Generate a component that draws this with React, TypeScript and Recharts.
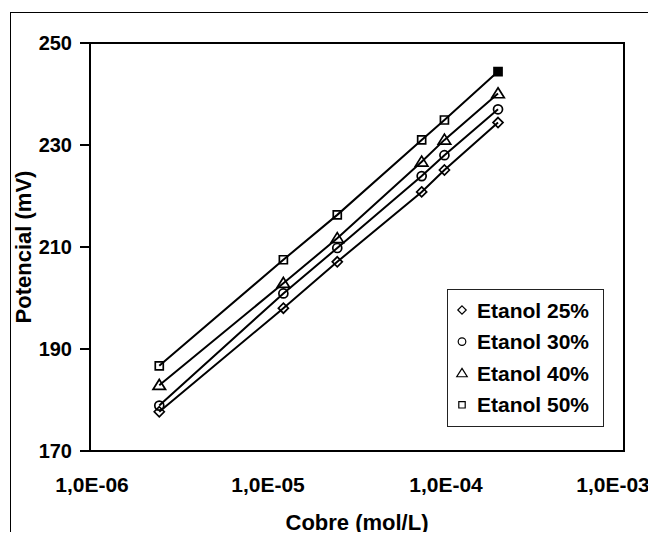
import React from 'react';
import { ScatterChart, Scatter, XAxis, YAxis, ReferenceArea, Legend } from 'recharts';

const concentrations = [2.45e-6, 1.22e-5, 2.45e-5, 7.3e-5, 9.8e-5, 1.96e-4];
const etanol25 = [177.7, 198.0, 207.1, 220.8, 225.1, 234.4];
const etanol30 = [178.9, 200.9, 209.8, 223.9, 228.0, 237.0];
const etanol40 = [182.9, 202.9, 211.7, 226.7, 231.0, 240.1];
const etanol50 = [186.7, 207.5, 216.3, 231.0, 234.9, 244.4];
const seriesNames = ['Etanol 25%', 'Etanol 30%', 'Etanol 40%', 'Etanol 50%'];
const markerKinds = ['diamond', 'circle', 'triangle', 'square'];
const xTicks = [1e-6, 1e-5, 1e-4, 1e-3];
const xTickLabels = ['1,0E-06', '1,0E-05', '1,0E-04', '1,0E-03'];
const yTicks = [170, 190, 210, 230, 250];
const xTitle = 'Cobre (mol/L)';
const yTitle = 'Potencial (mV)';

const FONT = '"Liberation Sans", Arial, sans-serif';

const toPoints = (vals: number[]) => concentrations.map((x, i) => ({ x, y: vals[i] }));
const seriesData = [etanol25, etanol30, etanol40, etanol50].map(toPoints);

function markerPath(kind: string, cx: number, cy: number, s: number) {
  if (kind === 'diamond') return `M${cx},${cy - s} L${cx + s},${cy} L${cx},${cy + s} L${cx - s},${cy} Z`;
  if (kind === 'triangle') return `M${cx},${cy - s * 1.15} L${cx + s * 1.25},${cy + s * 0.85} L${cx - s * 1.25},${cy + s * 0.85} Z`;
  if (kind === 'square') return `M${cx - s * 0.8},${cy - s * 0.8} h${s * 1.6} v${s * 1.6} h${-s * 1.6} Z`;
  return '';
}

const makeShape = (kind: string, lastFilled: boolean) => (props: any) => {
  const { cx, cy, payload } = props;
  if (cx == null || cy == null) return <g />;
  const filled = lastFilled && payload && payload.x === concentrations[concentrations.length - 1];
  if (kind === 'circle') {
    return <circle cx={cx} cy={cy} r={4.5} fill={filled ? '#000' : 'none'} stroke="#000" strokeWidth={1.7} />;
  }
  return <path d={markerPath(kind, cx, cy, 5)} fill={filled ? '#000' : 'none'} stroke="#000" strokeWidth={1.7} />;
};

const XTick = (props: any) => {
  const { x, y, payload } = props;
  const idx = xTicks.indexOf(payload.value);
  const label = idx >= 0 ? xTickLabels[idx] : String(payload.value);
  const dx = idx === xTicks.length - 1 ? -11 : idx === 0 ? 2 : 0;
  return (
    <text x={x + dx} y={y} dy="0.71em" textAnchor="middle" fill="#000" fontSize={21} fontWeight="bold" fontFamily={FONT}>
      {label}
    </text>
  );
};

const YLabel = (props: any) => {
  const vb = props.viewBox || {};
  const cy = (vb.y || 0) + (vb.height || 0) / 2;
  const cx = 23;
  return (
    <text x={cx} y={cy} transform={`rotate(-90 ${cx} ${cy})`} textAnchor="middle" dominantBaseline="central" fill="#000" fontSize={22} fontWeight="bold" fontFamily={FONT}>
      {yTitle}
    </text>
  );
};

const XLabel = (props: any) => {
  const vb = props.viewBox || {};
  const cx = (vb.x || 0) + (vb.width || 0) / 2;
  return (
    <text x={cx} y={530} textAnchor="middle" fill="#000" fontSize={22} fontWeight="bold" fontFamily={FONT}>
      {xTitle}
    </text>
  );
};

const LegendBox = () => (
  <svg width={157} height={138} style={{ display: 'block' }}>
    <rect x={0.5} y={0.5} width={156} height={137} fill="#fff" stroke="#222" strokeWidth={1} />
    {seriesNames.map((name, i) => {
      const cy = 21 + i * 31.6;
      const kind = markerKinds[i];
      return (
        <g key={name}>
          {kind === 'circle' ? (
            <circle cx={15} cy={cy} r={3.8} fill="none" stroke="#000" strokeWidth={1.2} />
          ) : (
            <path d={markerPath(kind, 15, cy, kind === 'square' ? 4 : 4.2)} fill="none" stroke="#000" strokeWidth={1.2} />
          )}
          <text x={30} y={cy} dominantBaseline="central" fill="#000" fontSize={21} fontWeight="bold" fontFamily={FONT}>
            {name}
          </text>
        </g>
      );
    })}
  </svg>
);

export default function App() {
  return (
    <div style={{ position: 'relative', margin: -8, width: 656, height: 540, overflow: 'hidden', background: '#fff' }}>
      <div style={{ position: 'absolute', left: 10, top: 12, width: 700, height: 600, border: '1px solid #000' }} />
      <div style={{ position: 'absolute', left: 0, top: 0 }}>
        <ScatterChart width={656} height={540} margin={{ top: 43, right: 32, bottom: 0, left: 10 }}>
          <XAxis
            type="number"
            dataKey="x"
            scale="log"
            domain={[1e-6, 1e-3]}
            ticks={xTicks}
            interval={0}
            allowDataOverflow
            axisLine={false}
            tickLine={false}
            tickSize={0}
            tickMargin={26}
            height={89}
            tick={<XTick />}
            label={<XLabel />}
          />
          <YAxis
            type="number"
            dataKey="y"
            domain={[170, 250]}
            ticks={yTicks}
            interval={0}
            allowDataOverflow
            width={80}
            axisLine={false}
            tickLine={{ stroke: '#000', strokeWidth: 2 }}
            tickSize={10}
            tickMargin={8}
            tick={{ fill: '#000', fontSize: 20, fontWeight: 'bold', fontFamily: FONT }}
            label={<YLabel />}
          />
          <ReferenceArea x1={1e-6} x2={1e-3} y1={170} y2={250} fill="none" fillOpacity={0} stroke="#000" strokeWidth={2} ifOverflow="visible" />
          {seriesData.map((data, i) => (
            <Scatter
              key={seriesNames[i]}
              name={seriesNames[i]}
              data={data}
              line={{ stroke: '#000', strokeWidth: 2 }}
              shape={makeShape(markerKinds[i], i === 3)}
              isAnimationActive={false}
            />
          ))}
          <Legend
            layout="horizontal"
            verticalAlign="middle"
            align="center"
            content={() => <LegendBox />}
            wrapperStyle={{ position: 'absolute', left: 447, top: 289, width: 157, height: 138 }}
          />
        </ScatterChart>
      </div>
    </div>
  );
}
